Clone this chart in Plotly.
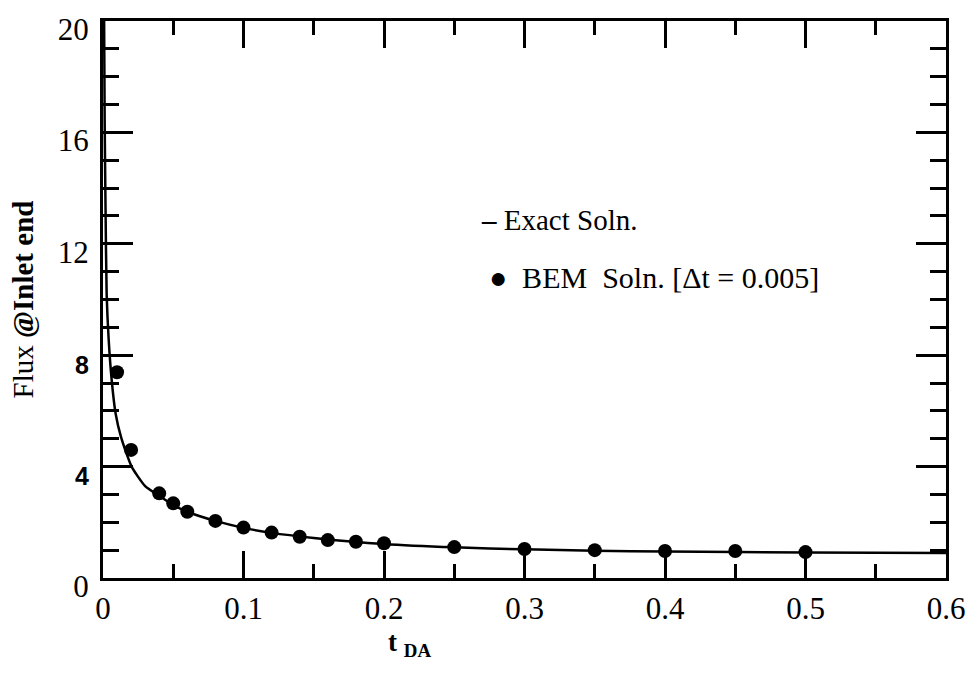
import plotly.graph_objects as go

# Exact solution
exact_t = [0.0008, 0.0012, 0.0018, 0.0026, 0.004, 0.0062, 0.009, 0.0128, 0.0204,
           0.03, 0.04, 0.05, 0.06, 0.08, 0.1, 0.12, 0.15, 0.2, 0.25, 0.3, 0.35,
           0.4, 0.5, 0.6]
exact_flux = [20.0, 16.3, 13.3, 10.2, 8.6, 7.1, 5.9, 5.07, 4.0,
              3.3, 2.95, 2.62, 2.38, 2.05, 1.8, 1.62, 1.44, 1.22, 1.1, 1.03, 0.98,
              0.95, 0.92, 0.9]

# BEM solution points
bem_t = [0.01, 0.02, 0.04, 0.05, 0.06, 0.08, 0.1, 0.12, 0.14, 0.16, 0.18, 0.2,
         0.25, 0.3, 0.35, 0.4, 0.45, 0.5]
bem_flux = [7.39, 4.6, 3.04, 2.68, 2.38, 2.05, 1.81, 1.63, 1.48, 1.36, 1.30, 1.25,
            1.11, 1.04, 1.0, 0.97, 0.97, 0.93]

x_ticks = [0, 0.1, 0.2, 0.3, 0.4, 0.5, 0.6]
x_ticktext = ["0", "0.1", "0.2", "0.3", "0.4", "0.5", "0.6"]
y_ticks = [0, 4, 8, 12, 16, 20]
sans_b = "<span style='font-family:Liberation Sans;font-size:25px'><b>%s</b></span>"
y_ticktext = ["0", sans_b % "4", sans_b % "8", "12", "16", "20"]

SERIF = "Liberation Serif"

fig = go.Figure()
fig.add_trace(go.Scatter(x=exact_t, y=exact_flux, mode="lines",
                         line=dict(color="black", width=2.5, shape="spline", smoothing=0.6),
                         name="Exact Soln.", showlegend=False, cliponaxis=True))
fig.add_trace(go.Scatter(x=bem_t, y=bem_flux, mode="markers",
                         marker=dict(color="black", size=14),
                         name="BEM Soln.", showlegend=False))

axis_common = dict(
    showgrid=False, zeroline=False, showline=True, linecolor="black", linewidth=3,
    mirror="ticks", ticks="inside", tickcolor="black", tickwidth=2.7,
    tickfont=dict(family=SERIF, size=31, color="black"),
)

fig.update_xaxes(range=[0, 0.6], tickvals=x_ticks, ticktext=x_ticktext, ticklen=27,
                 ticklabelstandoff=1,
                 minor=dict(dtick=0.05, ticklen=14, tickwidth=2.7, tickcolor="black", ticks="inside"),
                 **axis_common)
fig.update_yaxes(range=[0, 20], tickvals=y_ticks, ticktext=y_ticktext, ticklen=30,
                 ticklabelstandoff=5, ticklabelshift=8, ticklabeloverflow="allow",
                 minor=dict(dtick=1, ticklen=16, tickwidth=2.7, tickcolor="black", ticks="inside"),
                 title=dict(text="Flux <b>@Inlet end</b>", font=dict(family=SERIF, size=29, color="black"),
                            standoff=16),
                 **axis_common)

fig.add_annotation(x=0.364, y=-0.084, xref="paper", yref="paper", showarrow=False,
                   xanchor="center", yanchor="top",
                   text="<b>t</b> <sub><b>DA</b></sub>",
                   font=dict(family=SERIF, size=27, color="black"))

fig.add_annotation(x=0.446, y=0.643, xref="paper", yref="paper", showarrow=False,
                   xanchor="left", yanchor="middle", text="<b>–</b> Exact Soln.",
                   font=dict(family=SERIF, size=29, color="black"))
fig.add_annotation(x=0.456, y=0.540, xref="paper", yref="paper", showarrow=False,
                   xanchor="left", yanchor="middle", text="●  BEM  Soln. [Δt = 0.005]",
                   font=dict(family=SERIF, size=30, color="black"))

fig.update_layout(width=977, height=678, margin=dict(l=103, r=31, t=21, b=100),
                  paper_bgcolor="white", plot_bgcolor="white", showlegend=False)

fig.write_html("out.html")
